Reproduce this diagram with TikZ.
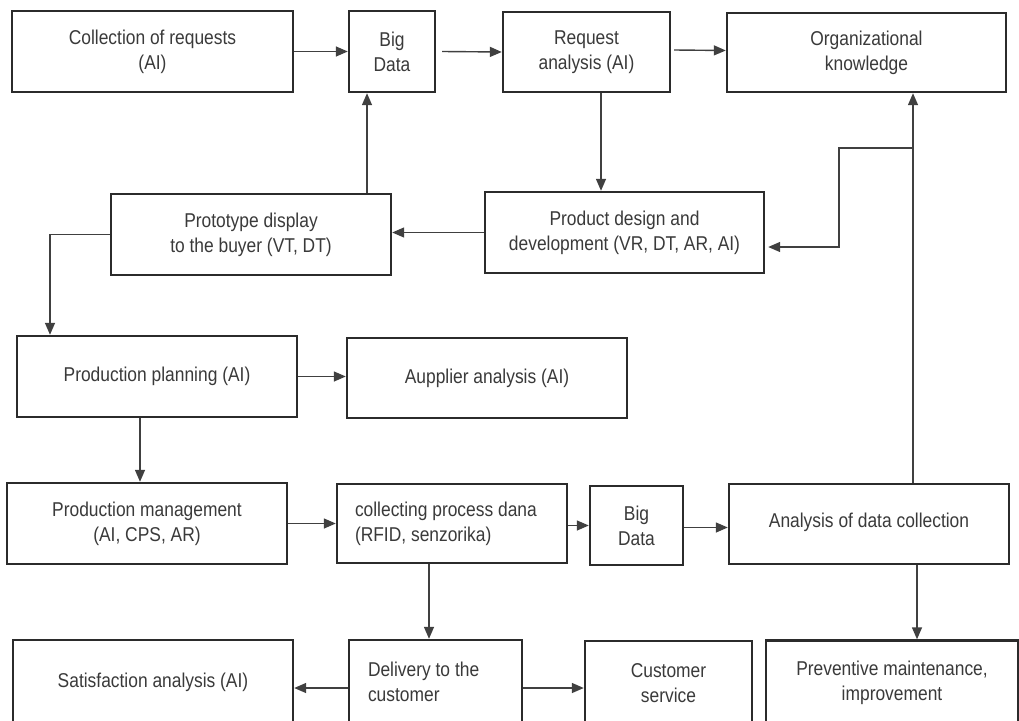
\documentclass[tikz,border=0pt]{standalone}
\usepackage{fontspec}
\setmainfont[FakeStretch=0.87]{Liberation Sans}
\usetikzlibrary{arrows.meta}
\definecolor{boxc}{HTML}{2B2B2B}
\definecolor{linec}{HTML}{404040}
\definecolor{txt}{HTML}{3A3A3A}
\begin{document}
\begin{tikzpicture}[x=1pt,y=-1pt,
  box/.style={draw=boxc, line width=2.4pt, text=txt, align=center, inner sep=0pt,
              font=\fontsize{20}{25}\selectfont},
  arr/.style={draw=linec, line width=1.4pt, -{Triangle[length=12pt,width=10pt]}},
  ln/.style={draw=linec, line width=1.4pt}]
\useasboundingbox (0,0) rectangle (1019,720);
\clip (0,0) rectangle (1019,720);
\fill[white] (0,0) rectangle (1019,720);

% row 1
\node[box, minimum width=281pt, minimum height=81pt] (col) at (152.5,51.5) {Collection of requests\\(AI)};
\node[box, minimum width=86pt, minimum height=81pt] (bd1) at (392,51.5) {Big\\Data};
\node[box, minimum width=167pt, minimum height=80pt] (req) at (586.5,52) {Request\\analysis (AI)};
\node[box, minimum width=279pt, minimum height=79pt] (org) at (866.5,52.5) {Organizational\\knowledge};
% row 2
\node[box, minimum width=280pt, minimum height=81pt] (proto) at (251,234.5) {Prototype display\\to the buyer (VT, DT)};
\node[box, minimum width=279pt, minimum height=81pt] (pd) at (624.5,232.5) {Product design and\\development (VR, DT, AR, AI)};
% row 3
\node[box, minimum width=280pt, minimum height=81pt] (pp) at (157,376.5) {Production planning (AI)};
\node[box, minimum width=280pt, minimum height=80pt] (sup) at (487,378) {Aupplier analysis (AI)};
% row 4
\node[box, minimum height=81pt, minimum width=280pt] (pm) at (147,523.5) {Production management\\(AI, CPS, AR)};
\node[box, minimum height=79pt, minimum width=230pt, align=flush left, text width=194pt, inner xsep=18pt] (cpd) at (452,523.5) {collecting process dana\\(RFID, senzorika)};
\node[box, minimum width=93pt, minimum height=79pt] (bd2) at (636.5,525.5) {Big\\Data};
\node[box, minimum width=280pt, minimum height=80pt] (adc) at (869,524) {\raisebox{7pt}{Analysis of data collection}};
% row 5
\node[box, minimum width=280pt, minimum height=84pt] (sat) at (153,682) {Satisfaction analysis (AI)};
\node[box, minimum height=84pt, minimum width=173pt, align=flush left, text width=135pt, inner xsep=19pt] (del) at (435.5,682) {Delivery to the\\customer};
\node[box, minimum width=167pt, minimum height=84pt] (cs) at (668.5,683) {Customer\\service};
\node[box, minimum width=252pt, minimum height=84pt] (prev) at (892,682.5) {Preventive maintenance,\\improvement};

% helper coordinates
\coordinate (t1) at ([xshift=-25pt]bd1.south);
\coordinate (t2) at ([xshift=14.5pt]req.south);
\coordinate (vb) at ([xshift=44pt]adc.north);
\coordinate (br) at (vb |- 0,148);
\coordinate (t3) at ([xshift=-17pt]pp.south);
\coordinate (t4) at ([xshift=-23pt]cpd.south);
\coordinate (t5) at ([xshift=48pt]adc.south);
\coordinate (t6) at ([yshift=-6pt]del.west);
\coordinate (t7) at ([yshift=-6pt]del.east);

% connectors
\draw[arr] (col.east) -- (bd1.west);
\draw[arr] ([xshift=6pt]bd1.east) -- (req.west);
\draw[arr] ([xshift=3pt,yshift=2pt]req.east) -- ([yshift=2pt]org.west);
\draw[arr] (t2) -- (t2 |- pd.north);
\draw[arr] (proto.north -| t1) -- (t1);
\draw[arr] (pd.west) -- (pd.west -| proto.east);
\draw[arr] (vb) -- (vb |- org.south);
\draw[arr] (br) -- ++(-74,0) |- ([xshift=3pt,yshift=-14.5pt]pd.east);
\draw[arr] (proto.west) -| ([xshift=-107pt]pp.north);
\draw[arr] (pp.east) -- (pp.east -| sup.west);
\draw[arr] (t3) -- (t3 |- pm.north);
\draw[arr] (pm.east) -- (pm.east -| cpd.west);
\draw[arr] (cpd.east |- bd2.west) -- (bd2.west);
\draw[arr] ([yshift=-2pt]bd2.east) -- ([yshift=-2pt]bd2.east -| adc.west);
\draw[arr] (t4) -- (t4 |- del.north);
\draw[arr] (t5) -- (t5 |- prev.north);
\draw[arr] (t6) -- (t6 -| sat.east);
\draw[arr] (t7) -- (t7 -| cs.west);
\end{tikzpicture}
\end{document}
